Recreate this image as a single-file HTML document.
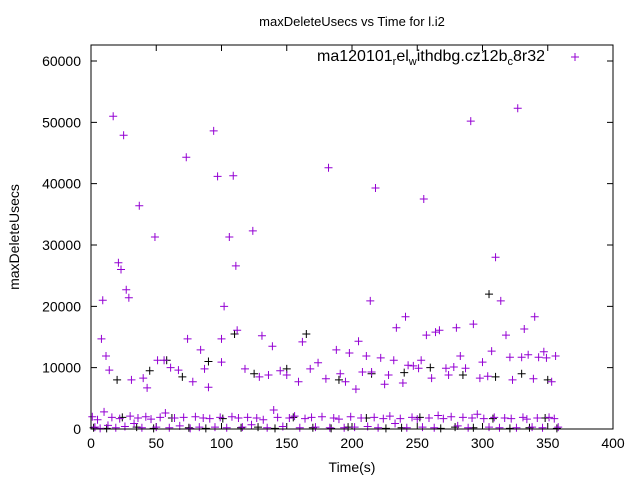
<!DOCTYPE html>
<html><head><meta charset="utf-8"><style>
body{margin:0;background:#fff}
svg{display:block;font-family:"Liberation Sans",sans-serif}
</style></head><body>
<svg id="c" width="640" height="480">
<text x="352" y="26" font-size="13" text-anchor="middle">maxDeleteUsecs vs Time for l.i2</text>
<text x="352" y="472" font-size="14" text-anchor="middle">Time(s)</text>
<text transform="translate(19,237) rotate(-90)" font-size="14" text-anchor="middle">maxDeleteUsecs</text>
<g>
<text x="545" y="61" font-size="16" text-anchor="end">ma120101<tspan font-size="11" dy="4">r</tspan><tspan dy="-4">el</tspan><tspan font-size="11" dy="4">w</tspan><tspan dy="-4">ithdbg.cz12b</tspan><tspan font-size="11" dy="4">c</tspan><tspan dy="-4">8r32</tspan></text>
<path d="M571 57h8M575 53v8" stroke="#9400d3" stroke-width="1"/>
</g>
<g id="axes"></g>
<g id="marks"></g>
<rect x="91" y="45" width="522" height="384" fill="none" stroke="#000" stroke-width="1"/>
</svg>
<script>
const xTicks=[0,50,100,150,200,250,300,350,400];
const yTicks=[0,10000,20000,30000,40000,50000,60000];
const purpleT=[8,9,11.5,14,17,21,23,25,27,29,31,37,40,43,49,51,56,61,67,73,74,78,84,87,90,94,97,100,102,100,106,109,111,112,118,124,129,131,136,139,145,150,159,162,168,174,180,182,188,191,195,198,203,205,208,211,214,215,218,222,225,228,232,234,239,241,243,247,251,253,255,257,261,264,267,272,274,278,280,283,287,291,293,298,300,304,307,310,314,318,321,323,327,330,332,335,339,340,343,347,349,353,356,
1,3,5,7,10,13,16,19,22,26,30,33,36,39,42,46,50,53,57,60,64,68,71,76,80,83,86,91,95,99,104,108,113,116,120,123,127,132,135,140,143,147,152,156,160,164,169,172,177,183,186,190,194,199,202,207,212,217,220,224,229,233,237,242,246,250,254,259,263,266,270,276,281,285,289,292,296,301,305,309,313,317,322,326,331,334,338,342,346,351,355,358];
const purpleV=[14700,21000,11900,9600,51000,27100,26000,47900,22700,21400,8000,36400,8300,6700,31300,11200,11200,10000,9600,44300,14700,7700,12900,9800,6800,48600,41200,14700,20000,10900,31300,41300,26600,16100,9800,32300,8500,15200,8800,13500,9500,8800,7700,14200,9800,10800,8200,42600,12900,9000,7700,12400,6500,14300,9300,11900,20900,9300,39300,11600,7300,8800,11200,16500,7500,18300,10400,10300,9900,11200,37500,15300,8300,15800,16100,9900,8800,10100,16500,11900,9900,50200,17100,8300,10900,8600,12700,28000,20900,15300,11700,8000,52300,11700,16300,12100,8200,18300,11700,12600,11600,7700,11900,
2000,300,1500,100,2800,600,1900,200,1700,400,2100,900,1800,200,2000,1600,300,1900,2600,200,1800,500,1900,100,2000,300,1800,1700,300,1900,200,2000,1800,300,1900,700,1800,1500,200,3100,1900,400,1800,2100,200,1700,1900,300,2000,200,1800,1600,200,2000,300,1800,400,1900,200,1700,2100,900,1700,200,1900,1600,300,1800,200,2200,1700,2000,500,1900,200,1800,2400,1700,300,1900,200,1800,1700,200,1900,1600,300,1800,200,1900,1700,300];
const blackT=[20,45,58,70,90,110,125,150,165,190,215,240,260,285,305,310,330,350,2,12,24,35,48,62,75,88,101,115,128,141,155,170,184,197,211,226,238,252,268,279,293,308,321,336,348,357];
const blackV=[8000,9500,11200,8500,11000,15500,9000,9800,15500,8000,9000,9200,10000,8800,22000,8500,9000,8000,200,100,1900,300,100,1800,200,100,1700,200,300,100,1900,200,100,300,1800,100,200,1900,100,300,200,1700,100,200,1800,100];
const X=t=>91+t*522/400, Y=v=>429-v*0.006133;
const NS='http://www.w3.org/2000/svg';
const ax=document.getElementById('axes');
xTicks.forEach(t=>{
 const l=document.createElementNS(NS,'path');
 l.setAttribute('d',`M${X(t)} 429v-6M${X(t)} 45v6`);l.setAttribute('stroke','#000');
 
 
 ax.appendChild(l);
 const tx=document.createElementNS(NS,'text');
 tx.setAttribute('x',X(t));tx.setAttribute('y',448);tx.setAttribute('font-size','14');tx.setAttribute('text-anchor','middle');
 tx.textContent=t;
 
 
 ax.appendChild(tx);
});
yTicks.forEach(v=>{
 const l=document.createElementNS(NS,'path');
 l.setAttribute('d',`M91 ${Y(v)}h6M613 ${Y(v)}h-6`);l.setAttribute('stroke','#000');
 
 
 ax.appendChild(l);
 const tx=document.createElementNS(NS,'text');
 tx.setAttribute('x',81);tx.setAttribute('y',Y(v)+5);tx.setAttribute('font-size','14');tx.setAttribute('text-anchor','end');
 tx.textContent=v;
 
 
 ax.appendChild(tx);
});
const mk=document.getElementById('marks');
function plot(ts,vs,col,name){
 ts.forEach((t,i)=>{
  const p=document.createElementNS(NS,'path');
  const x=X(t),y=Y(vs[i]);
  p.setAttribute('d',`M${x-4} ${y}h8M${x} ${y-4}v8`);
  p.setAttribute('stroke',col);
  
  
  mk.appendChild(p);
 });
}
plot(blackT,blackV,'#000','black-point');
plot(purpleT,purpleV,'#9400d3','data-point');
</script>
</body></html>
